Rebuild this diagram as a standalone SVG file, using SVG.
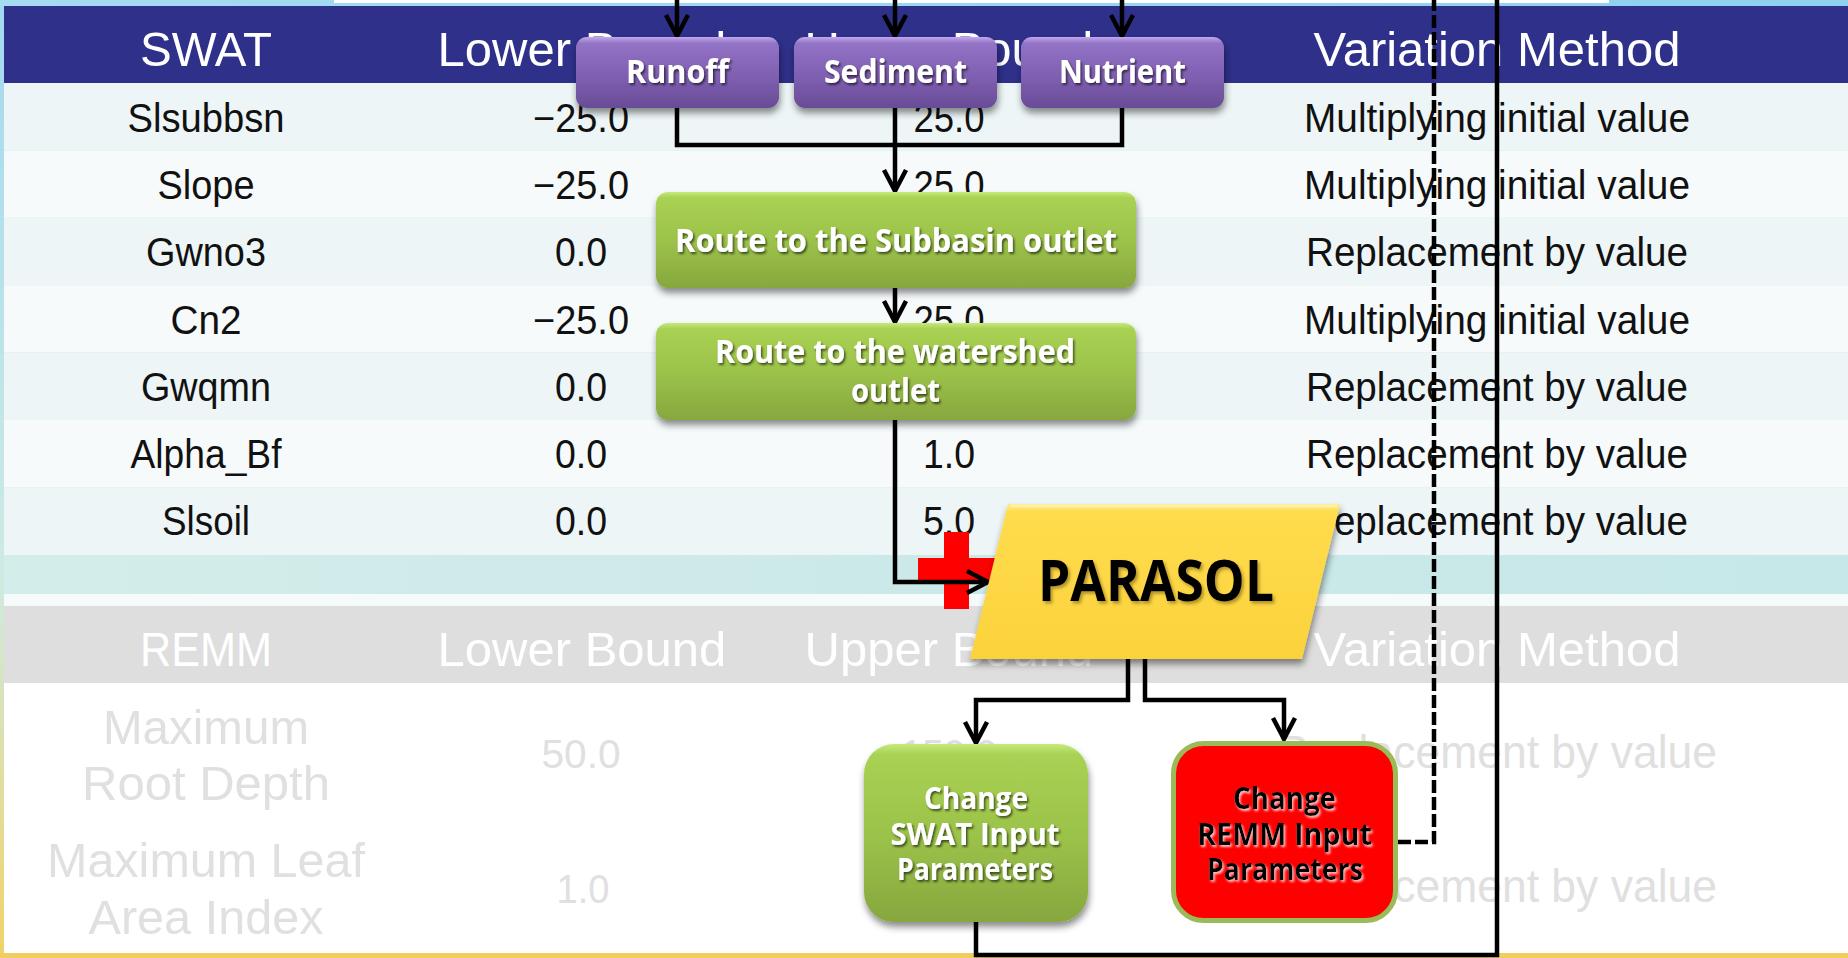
<svg xmlns="http://www.w3.org/2000/svg" width="1848" height="958" viewBox="0 0 1848 958">
  <defs>
    <linearGradient id="edge" x1="0" y1="0" x2="0" y2="1">
      <stop offset="0" stop-color="#A3D9F1"/>
      <stop offset="0.6" stop-color="#CDEBE3"/>
      <stop offset="1" stop-color="#F2D268"/>
    </linearGradient>
    <linearGradient id="topband" x1="0" y1="0" x2="1" y2="0">
      <stop offset="0" stop-color="#A6DBF2"/>
      <stop offset="1" stop-color="#8ED0EF"/>
    </linearGradient>
    <linearGradient id="cyanband" x1="0" y1="0" x2="1" y2="0">
      <stop offset="0" stop-color="#D3EDEA"/>
      <stop offset="0.5" stop-color="#CBE9E8"/>
      <stop offset="1" stop-color="#C7E8E9"/>
    </linearGradient>
    <linearGradient id="gPurple" x1="0" y1="0" x2="0" y2="1">
      <stop offset="0" stop-color="#C2A8EC"/>
      <stop offset="0.09" stop-color="#9373C5"/>
      <stop offset="0.55" stop-color="#7F5FB1"/>
      <stop offset="1" stop-color="#694C97"/>
    </linearGradient>
    <linearGradient id="gGreen" x1="0" y1="0" x2="0" y2="1">
      <stop offset="0" stop-color="#C6EA7A"/>
      <stop offset="0.06" stop-color="#A9D153"/>
      <stop offset="0.5" stop-color="#9CC34A"/>
      <stop offset="1" stop-color="#87A73E"/>
    </linearGradient>
    <linearGradient id="gYellow" x1="0" y1="0" x2="0" y2="1">
      <stop offset="0" stop-color="#FFEC92"/>
      <stop offset="0.05" stop-color="#FFDC4E"/>
      <stop offset="1" stop-color="#FBD23B"/>
    </linearGradient>
    <filter id="boxShadow" x="-10%" y="-10%" width="125%" height="145%">
      <feDropShadow dx="1" dy="5" stdDeviation="3.5" flood-color="#000" flood-opacity="0.45"/>
    </filter>
    <filter id="textShadow" x="-10%" y="-30%" width="125%" height="170%">
      <feDropShadow dx="1.5" dy="2" stdDeviation="1" flood-color="#000" flood-opacity="0.6"/>
    </filter>
    <filter id="textGlow" x="-10%" y="-30%" width="125%" height="170%">
      <feDropShadow dx="1.5" dy="2" stdDeviation="1" flood-color="#FFFFFF" flood-opacity="0.75"/>
    </filter>
    <filter id="titleShadow" x="-10%" y="-30%" width="125%" height="170%">
      <feDropShadow dx="2" dy="2.5" stdDeviation="1.5" flood-color="#6E5A10" flood-opacity="0.55"/>
    </filter>
    <marker id="arrow" markerUnits="userSpaceOnUse" markerWidth="30" markerHeight="30" viewBox="0 0 30 30" refX="25" refY="15" orient="auto">
      <path d="M4,4 L25,15 L4,26" fill="none" stroke="#000" stroke-width="4.5"/>
    </marker>
  </defs>
  <style>
    .hd { font-family: "Liberation Sans", Arial, sans-serif; font-size: 49px; fill: #FFFFFF; text-anchor: middle; }
    .cell { font-family: "Liberation Sans", Arial, sans-serif; font-size: 40px; fill: #111111; text-anchor: middle; }
    .faded { font-family: "Liberation Sans", Arial, sans-serif; fill: #E0E0E0; text-anchor: middle; }
    .lbl { font-family: "Open Sans", "Noto Sans", sans-serif; font-weight: 700; fill: #FFFFFF; text-anchor: middle; filter: url(#textShadow); }
    .lblDark { font-family: "Open Sans", "Noto Sans", sans-serif; font-weight: 700; fill: #000000; text-anchor: middle; filter: url(#textGlow); }
    .conn { fill: none; stroke: #000000; stroke-width: 4.5; }
    .arr { marker-end: url(#arrow); }
    .dash { stroke-dasharray: 13 4; }
  </style>

  <!-- page backdrop -->
  <g id="backdrop">
    <rect x="0" y="0" width="1848" height="958" fill="url(#edge)"/>
    <rect x="0" y="0" width="1848" height="6" fill="url(#topband)"/>
    <rect x="334" y="0" width="1275" height="3" fill="#FFFFFF"/>
    <rect x="0" y="953" width="1848" height="5" fill="#F1CD5F"/>
  </g>

  <!-- SWAT parameter table -->
  <g id="swat-table">
    <rect x="4" y="6" width="1844" height="77" fill="#2E308A"/>
    <rect x="4" y="83" width="1844" height="67.4" fill="#EDF5F6"/>
    <rect x="4" y="150.4" width="1844" height="67.4" fill="#F6FAFB"/>
    <rect x="4" y="217.8" width="1844" height="67.4" fill="#EDF5F6"/>
    <rect x="4" y="285.2" width="1844" height="67.4" fill="#F6FAFB"/>
    <rect x="4" y="352.6" width="1844" height="67.4" fill="#EDF5F6"/>
    <rect x="4" y="420" width="1844" height="67.4" fill="#F6FAFB"/>
    <rect x="4" y="487.4" width="1844" height="67.6" fill="#EDF5F6"/>
    <rect x="4" y="555" width="1844" height="39" fill="url(#cyanband)"/>
    <rect x="4" y="594" width="1844" height="12" fill="#F5FAFA"/>

    <text class="hd" x="206" y="66" textLength="132" lengthAdjust="spacingAndGlyphs">SWAT</text>
    <text class="hd" x="582" y="66">Lower Bound</text>
    <text class="hd" x="949" y="66">Upper Bound</text>
    <text class="hd" x="1497" y="66">Variation Method</text>

    <text class="cell" x="206" y="132" textLength="157" lengthAdjust="spacingAndGlyphs">Slsubbsn</text>
    <text class="cell" x="581" y="132" textLength="96" lengthAdjust="spacingAndGlyphs">−25.0</text>
    <text class="cell" x="949" y="132" textLength="71" lengthAdjust="spacingAndGlyphs">25.0</text>
    <text class="cell" x="1497" y="132" textLength="386" lengthAdjust="spacingAndGlyphs">Multiplying initial value</text>

    <text class="cell" x="206" y="199.2" textLength="97" lengthAdjust="spacingAndGlyphs">Slope</text>
    <text class="cell" x="581" y="199.2" textLength="96" lengthAdjust="spacingAndGlyphs">−25.0</text>
    <text class="cell" x="949" y="199.2" textLength="71" lengthAdjust="spacingAndGlyphs">25.0</text>
    <text class="cell" x="1497" y="199.2" textLength="386" lengthAdjust="spacingAndGlyphs">Multiplying initial value</text>

    <text class="cell" x="206" y="266.4" textLength="120" lengthAdjust="spacingAndGlyphs">Gwno3</text>
    <text class="cell" x="581" y="266.4" textLength="52" lengthAdjust="spacingAndGlyphs">0.0</text>
    <text class="cell" x="1497" y="266.4" textLength="382" lengthAdjust="spacingAndGlyphs">Replacement by value</text>

    <text class="cell" x="206" y="333.6" textLength="71" lengthAdjust="spacingAndGlyphs">Cn2</text>
    <text class="cell" x="581" y="333.6" textLength="96" lengthAdjust="spacingAndGlyphs">−25.0</text>
    <text class="cell" x="949" y="333.6" textLength="71" lengthAdjust="spacingAndGlyphs">25.0</text>
    <text class="cell" x="1497" y="333.6" textLength="386" lengthAdjust="spacingAndGlyphs">Multiplying initial value</text>

    <text class="cell" x="206" y="400.8" textLength="130" lengthAdjust="spacingAndGlyphs">Gwqmn</text>
    <text class="cell" x="581" y="400.8" textLength="52" lengthAdjust="spacingAndGlyphs">0.0</text>
    <text class="cell" x="1497" y="400.8" textLength="382" lengthAdjust="spacingAndGlyphs">Replacement by value</text>

    <text class="cell" x="206" y="468" textLength="151" lengthAdjust="spacingAndGlyphs">Alpha_Bf</text>
    <text class="cell" x="581" y="468" textLength="52" lengthAdjust="spacingAndGlyphs">0.0</text>
    <text class="cell" x="949" y="468" textLength="52" lengthAdjust="spacingAndGlyphs">1.0</text>
    <text class="cell" x="1497" y="468" textLength="382" lengthAdjust="spacingAndGlyphs">Replacement by value</text>

    <text class="cell" x="206" y="535.2" textLength="88" lengthAdjust="spacingAndGlyphs">Slsoil</text>
    <text class="cell" x="581" y="535.2" textLength="52" lengthAdjust="spacingAndGlyphs">0.0</text>
    <text class="cell" x="949" y="535.2" textLength="52" lengthAdjust="spacingAndGlyphs">5.0</text>
    <text class="cell" x="1497" y="535.2" textLength="382" lengthAdjust="spacingAndGlyphs">Replacement by value</text>
  </g>

  <!-- REMM parameter table (faded) -->
  <g id="remm-table">
    <rect x="4" y="606" width="1844" height="77" fill="#DEDEDE"/>
    <rect x="4" y="683" width="1844" height="270" fill="#FFFFFF"/>
    <text class="hd" x="206" y="666" textLength="132" lengthAdjust="spacingAndGlyphs">REMM</text>
    <text class="hd" x="582" y="666">Lower Bound</text>
    <text class="hd" x="949" y="666">Upper Bound</text>
    <text class="hd" x="1497" y="666">Variation Method</text>

    <text class="faded" font-size="49" x="206" y="744" textLength="206" lengthAdjust="spacingAndGlyphs">Maximum</text>
    <text class="faded" font-size="49" x="206" y="800" textLength="248" lengthAdjust="spacingAndGlyphs">Root Depth</text>
    <text class="faded" font-size="41" x="581" y="768" textLength="79" lengthAdjust="spacingAndGlyphs">50.0</text>
    <text class="faded" font-size="41" x="949" y="768" textLength="96" lengthAdjust="spacingAndGlyphs">150.0</text>
    <text class="faded" font-size="47" x="1497" y="768" textLength="440" lengthAdjust="spacingAndGlyphs">Replacement by value</text>

    <text class="faded" font-size="49" x="206" y="877" textLength="318" lengthAdjust="spacingAndGlyphs">Maximum Leaf</text>
    <text class="faded" font-size="49" x="206" y="934" textLength="235" lengthAdjust="spacingAndGlyphs">Area Index</text>
    <text class="faded" font-size="41" x="583" y="903" textLength="53" lengthAdjust="spacingAndGlyphs">1.0</text>
    <text class="faded" font-size="47" x="1497" y="902" textLength="440" lengthAdjust="spacingAndGlyphs">Replacement by value</text>
  </g>

  <!-- red plus sign beside the optimiser -->
  <g id="plus">
    <rect x="944" y="532" width="25" height="77" fill="#FF0000"/>
    <rect x="918" y="558" width="77" height="25" fill="#FF0000"/>
  </g>

  <!-- connectors -->
  <g id="connectors">
    <path class="conn arr" d="M677,0 V36"/>
    <path class="conn arr" d="M895,0 V36"/>
    <path class="conn arr" d="M1122,0 V36"/>
    <path class="conn" d="M677,108 V145 H1122 V108"/>
    <path class="conn arr" d="M895,108 V191"/>
    <path class="conn arr" d="M895,288 V322"/>
    <path class="conn arr" d="M895,420 V582 H988"/>
    <path class="conn arr" d="M1128,659 V700 H976 V743"/>
    <path class="conn arr" d="M1145,659 V700 H1284 V739"/>
    <path class="conn dash" d="M1398,842 H1434 V0"/>
    <path class="conn" d="M976,922 V955 H1497 V0"/>
  </g>

  <g id="node-runoff">
    <rect x="576" y="37" width="203" height="71" rx="11" fill="url(#gPurple)" filter="url(#boxShadow)"/>
    <text class="lbl" x="677.5" y="83" font-size="33" textLength="103" lengthAdjust="spacingAndGlyphs">Runoff</text>
  </g>
  <g id="node-sediment">
    <rect x="794" y="37" width="203" height="71" rx="11" fill="url(#gPurple)" filter="url(#boxShadow)"/>
    <text class="lbl" x="895.5" y="83" font-size="33" textLength="143" lengthAdjust="spacingAndGlyphs">Sediment</text>
  </g>
  <g id="node-nutrient">
    <rect x="1021" y="37" width="203" height="71" rx="11" fill="url(#gPurple)" filter="url(#boxShadow)"/>
    <text class="lbl" x="1122.5" y="83" font-size="33" textLength="127" lengthAdjust="spacingAndGlyphs">Nutrient</text>
  </g>

  <g id="node-subbasin">
    <rect x="656" y="192" width="480" height="96" rx="12" fill="url(#gGreen)" filter="url(#boxShadow)"/>
    <text class="lbl" x="896" y="252" font-size="33" textLength="442" lengthAdjust="spacingAndGlyphs">Route to the Subbasin outlet</text>
  </g>
  <g id="node-watershed">
    <rect x="656" y="323" width="480" height="97" rx="12" fill="url(#gGreen)" filter="url(#boxShadow)"/>
    <text class="lbl" x="895" y="363" font-size="33" textLength="360" lengthAdjust="spacingAndGlyphs">Route to the watershed</text>
    <text class="lbl" x="895.5" y="402" font-size="33" textLength="89" lengthAdjust="spacingAndGlyphs">outlet</text>
  </g>

  <g id="node-parasol">
    <polygon points="1008,504 1340,504 1302,659 970,659" fill="url(#gYellow)" filter="url(#boxShadow)"/>
    <polyline points="1011,506 1337,506" fill="none" stroke="#FFF0A8" stroke-width="3"/>
    <text x="1156" y="601" font-family="'Open Sans', 'Noto Sans', sans-serif" font-weight="700" font-size="57" fill="#000000" text-anchor="middle" textLength="236" lengthAdjust="spacingAndGlyphs" filter="url(#titleShadow)">PARASOL</text>
  </g>

  <g id="node-change-swat">
    <rect x="864" y="744" width="224" height="178" rx="30" fill="url(#gGreen)" filter="url(#boxShadow)"/>
    <text class="lbl" x="976" y="809" font-size="31" textLength="104" lengthAdjust="spacingAndGlyphs">Change</text>
    <text class="lbl" x="975" y="845" font-size="31" textLength="169" lengthAdjust="spacingAndGlyphs">SWAT Input</text>
    <text class="lbl" x="975" y="880" font-size="31" textLength="156" lengthAdjust="spacingAndGlyphs">Parameters</text>
  </g>

  <g id="node-change-remm">
    <rect x="1173.5" y="743.5" width="222" height="177" rx="30" fill="#FF0000" stroke="#9BBB59" stroke-width="5"/>
    <text class="lblDark" x="1284.5" y="809" font-size="31" textLength="103" lengthAdjust="spacingAndGlyphs">Change</text>
    <text class="lblDark" x="1284.5" y="845" font-size="31" textLength="175" lengthAdjust="spacingAndGlyphs">REMM Input</text>
    <text class="lblDark" x="1285" y="880" font-size="31" textLength="156" lengthAdjust="spacingAndGlyphs">Parameters</text>
  </g>
</svg>
